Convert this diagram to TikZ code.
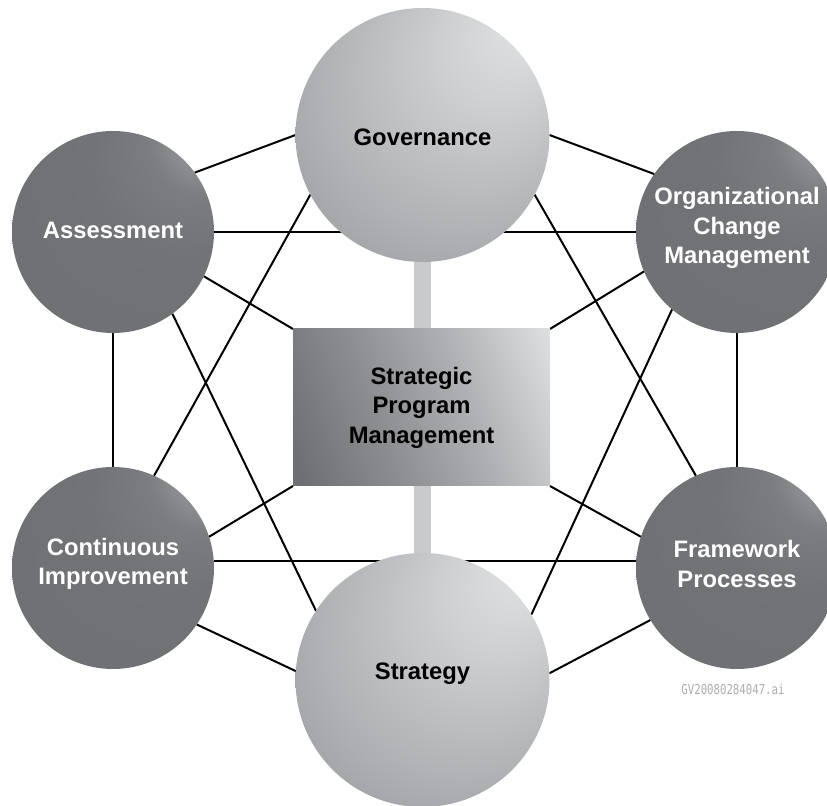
\documentclass[tikz,border=0pt]{standalone}
\usepackage{fontspec}
\setmainfont{Liberation Sans}
\newfontfamily\tagfont[FakeStretch=0.78]{DejaVu Sans Mono}
\usetikzlibrary{backgrounds}
\definecolor{hubhigh}{HTML}{E0E1E3}
\definecolor{hubglow}{HTML}{D1D2D4}
\definecolor{hubmid}{HTML}{AEAFB2}
\definecolor{hubring}{HTML}{929397}
\definecolor{hubedge}{HTML}{999A9D}
\definecolor{spokehigh}{HTML}{CDCED1}
\definecolor{spokeglow}{HTML}{9A9B9E}
\definecolor{spokebase}{HTML}{727377}
\definecolor{spokering}{HTML}{6E6F73}
\definecolor{spokeedge}{HTML}{77787C}
\definecolor{barcolor}{HTML}{C9CACC}
\definecolor{boxdark}{HTML}{6E6F73}
\definecolor{boxlow}{HTML}{8C8D91}
\definecolor{boxmid}{HTML}{AFB0B3}
\definecolor{boxhigh}{HTML}{DADBDD}
\definecolor{boxlight}{HTML}{F5F5F6}
\pgfdeclareradialshading{hubball}{\pgfpoint{20bp}{22bp}}{color(0bp)=(hubhigh); color(10bp)=(hubglow); color(30bp)=(hubmid); color(44bp)=(hubring); color(50bp)=(hubedge)}
\pgfdeclareradialshading{spokeball}{\pgfpoint{30bp}{30bp}}{color(0bp)=(spokehigh); color(2bp)=(spokehigh!90!spokeglow); color(7bp)=(spokeglow); color(13bp)=(spokebase!75!spokeglow); color(22bp)=(spokebase); color(47bp)=(spokering); color(50bp)=(spokeedge)}
\pgfdeclarehorizontalshading{boxfade}{100bp}{color(0bp)=(boxdark); color(20bp)=(boxdark); color(40bp)=(boxlow); color(60bp)=(boxmid); color(80bp)=(boxhigh); color(92bp)=(boxlight); color(100bp)=(boxlight)}

\begin{document}
\begin{tikzpicture}[x=0.5pt, y=-0.5pt,
        hub/.style={circle, shade, shading=hubball, minimum size=127pt, inner sep=0pt, outer sep=0pt},
        spoke/.style={circle, shade, shading=spokeball, minimum size=101pt, inner sep=0pt, outer sep=0pt},
        hubtext/.style={font=\bfseries\fontsize{11.9}{14.75}\selectfont, align=center, text=black},
        spoketext/.style={hubtext, text=white},
        link/.style={line width=1pt},
        spine/.style={line width=8.5pt, barcolor}]
        \useasboundingbox (0,0) rectangle (827,806);
        \node [hub, label={[hubtext, yshift=-1pt]center:Governance}] (gov) at (422.5,135) {};
        \node [hub, label={[hubtext, yshift=3pt]center:Strategy}] (strat) at (422.5,680) {};
        \node [spoke, label={[spoketext, yshift=1pt]center:Assessment}] (ass) at (113,232) {};
        \node [spoke, label={[spoketext, yshift=2pt]center:Organizational\\Change\\Management}] (org) at (737,232) {};
        \node [spoke, label={[spoketext, yshift=2pt]center:Continuous\\Improvement}] (cont) at (113,568) {};
        \node [spoke, label={[spoketext, yshift=2pt]center:Framework\\Processes}] (frame) at (737,568) {};
        \node [rectangle, shade, shading=boxfade, shading angle=20,
            minimum width=128.5pt, minimum height=78.5pt, inner sep=0pt, outer sep=0pt, hubtext] (spm) at (421.5,407.5) {Strategic\\Program\\Management};
        \node [text=gray!65, font=\tagfont\fontsize{6.86}{8}\selectfont] (tag) at (733,689) {GV20080284047.ai};
        \begin{scope}[on background layer]
            \draw [spine] (gov.south) -- (strat.north);
            \draw [link] (ass.36) -- (gov.180);
            \draw [link] (ass.east) -- (org.west);
            \draw [link] (ass.south) -- (cont.north);
            \draw [link] (ass.-26) -- (spm.north west);
            \draw [link] (ass.-54) -- (strat.147);
            \draw [link] (gov.0) -- (org.145);
            \draw [link] (gov.208) -- (cont.66);
            \draw [link] (gov.-28) -- (frame.114);
            \draw [link] (org.203) -- (spm.north east);
            \draw [link] (org.230) -- (strat.31);
            \draw [link] (org.south) -- (frame.north);
            \draw [link] (cont.18) -- (spm.south west);
            \draw [link] (cont.4) -- (frame.176);
            \draw [link] (cont.-34) -- (strat.176);
            \draw [link] (frame.162) -- (spm.south east);
            \draw [link] (frame.211) -- (strat.3);
        \end{scope}
    \end{tikzpicture}
\end{document}
